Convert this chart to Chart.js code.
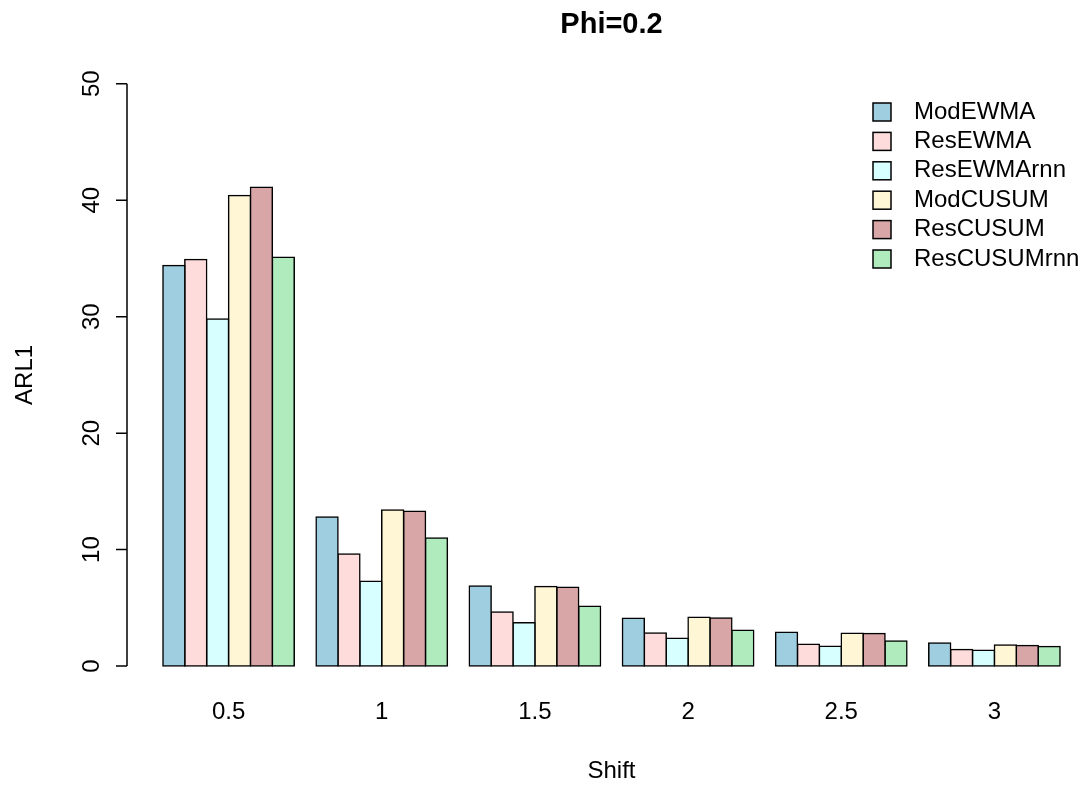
<!DOCTYPE html>
<html>
<head>
<meta charset="utf-8">
<script src="https://cdn.jsdelivr.net/npm/chart.js@4"></script>
<style>
  html, body { margin: 0; padding: 0; background: #fff; }
  canvas { display: block; }
</style>
</head>
<body>
<canvas id="arl-chart" width="1088" height="786"></canvas>
<script>
// shift sizes (x categories)
const shifts = ["0.5", "1", "1.5", "2", "2.5", "3"];

// ARL1 per method
const modEWMA     = [34.4, 12.8, 6.87, 4.10, 2.91, 1.99];
const resEWMA     = [34.9, 9.63, 4.65, 2.85, 1.88, 1.43];
const resEWMArnn  = [29.8, 7.29, 3.73, 2.39, 1.71, 1.37];
const modCUSUM    = [40.4, 13.4, 6.84, 4.19, 2.82, 1.82];
const resCUSUM    = [41.1, 13.3, 6.78, 4.13, 2.79, 1.77];
const resCUSUMrnn = [35.1, 11.0, 5.13, 3.08, 2.16, 1.68];

const methodNames = ["ModEWMA", "ResEWMA", "ResEWMArnn", "ModCUSUM", "ResCUSUM", "ResCUSUMrnn"];
const methodValues = [modEWMA, resEWMA, resEWMArnn, modCUSUM, resCUSUM, resCUSUMrnn];
const methodColors = ["#9fcee0", "#ffdcdc", "#d8ffff", "#fff6d6", "#d9a6a8", "#afebbc"];

const yTicks = [0, 10, 20, 30, 40, 50];

const FONT = '"Liberation Sans", Arial, Helvetica, sans-serif';
Chart.defaults.font.family = FONT;
Chart.defaults.font.size = 24;
Chart.defaults.color = "#000";

// R style y axis: line + ticks offset to the left of the bars
const rAxis = {
    id: "rAxis",
    afterDraw(chart) {
        const ctx = chart.ctx;
        const y = chart.scales.y;
        const x0 = chart.chartArea.left - 25;
        ctx.save();
        ctx.strokeStyle = "#000";
        ctx.lineWidth = 1.5;
        ctx.beginPath();
        ctx.moveTo(x0, y.getPixelForValue(yTicks[0]));
        ctx.lineTo(x0, y.getPixelForValue(yTicks[yTicks.length - 1]));
        yTicks.forEach(v => {
            const py = y.getPixelForValue(v);
            ctx.moveTo(x0, py);
            ctx.lineTo(x0 - 11, py);
        });
        ctx.stroke();
        ctx.restore();
    }
};

// boxed legend at top right, like R's legend(bty="n")
const rLegend = {
    id: "rLegend",
    afterDraw(chart) {
        const ctx = chart.ctx;
        ctx.save();
        ctx.font = "24px " + FONT;
        ctx.textBaseline = "middle";
        ctx.textAlign = "left";
        chart.data.datasets.forEach((ds, i) => {
            const cy = 112 + i * 29.4;
            ctx.fillStyle = ds.backgroundColor;
            ctx.fillRect(873, cy - 9, 18, 18);
            ctx.strokeStyle = "#000";
            ctx.lineWidth = 1.5;
            ctx.strokeRect(873, cy - 9, 18, 18);
            ctx.fillStyle = "#000";
            ctx.fillText(ds.label, 914, cy);
        });
        ctx.restore();
    }
};

const ctx = document.getElementById("arl-chart").getContext("2d");
new Chart(ctx, {
    type: "bar",
    data: {
        labels: shifts,
        datasets: methodNames.map((name, i) => ({
            label: name,
            data: methodValues[i],
            backgroundColor: methodColors[i],
            borderColor: "#000",
            borderWidth: 1.5,
            borderSkipped: false,
            inflateAmount: 0.75,
            categoryPercentage: 6 / 7,
            barPercentage: 1
        }))
    },
    options: {
        responsive: false,
        animation: false,
        layout: { padding: { left: 0, right: 17, top: 0, bottom: 0 } },
        plugins: {
            legend: { display: false },
            tooltip: { enabled: false },
            title: {
                display: true,
                text: "Phi=0.2",
                fullSize: false,
                color: "#000",
                font: { size: 29, weight: "bold" },
                padding: { top: 5, bottom: 18 }
            }
        },
        scales: {
            x: {
                grid: { display: false, drawTicks: false },
                border: { display: false },
                ticks: { padding: 9, font: { size: 24 }, color: "#000" },
                title: { display: true, text: "Shift", font: { size: 24 }, color: "#000", padding: { top: 0, bottom: 0 } },
                afterFit(s) { s.height = 96.6; }
            },
            y: {
                min: -2,
                max: 52,
                bounds: "data",
                grid: { display: false, drawTicks: false },
                border: { display: false },
                ticks: {
                    stepSize: 10,
                    includeBounds: false,
                    minRotation: 90,
                    maxRotation: 90,
                    crossAlign: "center",
                    padding: 46,
                    font: { size: 24 },
                    color: "#000"
                },
                afterBuildTicks(s) { s.ticks = yTicks.map(v => ({ value: v })); },
                title: { display: true, text: "ARL1", font: { size: 24 }, color: "#000", padding: { top: 11, bottom: 0 } },
                afterFit(s) { s.width = 152; }
            }
        }
    },
    plugins: [rAxis, rLegend]
});
</script>
</body>
</html>
